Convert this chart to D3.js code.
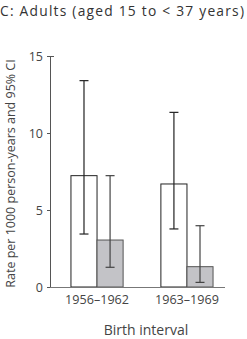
<!DOCTYPE html>
<html>
<head>
<meta charset="utf-8">
<script src="https://cdn.jsdelivr.net/npm/d3@7"></script>
<style>
  body { margin: 0; background: #fff; }
  text { font-family: "Open Sans", "Noto Sans", sans-serif; }
</style>
</head>
<body>
<svg id="chart" width="247" height="339"></svg>
<script>
const intervals = ["1956\u20131962", "1963\u20131969"];
const groups = ["white", "gray"];
const rates = [[7.23, 3.05], [6.69, 1.32]];
const lowerCI = [[3.44, 1.28], [3.77, 0.3]];
const upperCI = [[13.4, 7.23], [11.34, 3.98]];
const yTicks = [0, 5, 10, 15];

const plotLeft = 50;
const plotRight = 225;
const plotTop = 56;
const plotBottom = 287;

const svg = d3.select("#chart");

const x0 = d3.scaleBand().domain(intervals).range([plotLeft, 234]).paddingInner(0.42).paddingOuter(0.233);
const x1 = d3.scaleBand().domain(groups).range([0, x0.bandwidth()]);
const y = d3.scaleLinear().domain([0, 15]).range([plotBottom, plotTop]);

// title
svg.append("text")
  .attr("x", 0)
  .attr("y", 16)
  .attr("font-size", 13.8)
  .attr("fill", "#333")
  .attr("textLength", 244)
  .text("C: Adults (aged 15 to < 37 years)");

// bars
const fills = { white: "#fff", gray: "#c3c3c7" };
const strokes = { white: "#222", gray: "#555" };

intervals.forEach((iv, i) => {
  const g = svg.append("g").attr("transform", `translate(${x0(iv)},0)`);
  groups.forEach((grp, j) => {
    g.append("rect")
      .attr("x", x1(grp))
      .attr("y", y(rates[i][j]))
      .attr("width", x1.bandwidth())
      .attr("height", y(0) - y(rates[i][j]))
      .attr("fill", fills[grp])
      .attr("stroke", strokes[grp])
      .attr("stroke-width", 1);
  });
  groups.forEach((grp, j) => {
    const cx = x1(grp) + x1.bandwidth() / 2;
    const col = grp === "white" ? "#222" : "#444";
    g.append("line")
      .attr("x1", cx).attr("x2", cx)
      .attr("y1", y(lowerCI[i][j])).attr("y2", y(upperCI[i][j]))
      .attr("stroke", col).attr("stroke-width", 1.2);
    [lowerCI[i][j], upperCI[i][j]].forEach((v) => {
      g.append("line")
        .attr("x1", cx - 4.5).attr("x2", cx + 4.5)
        .attr("y1", y(v)).attr("y2", y(v))
        .attr("stroke", col).attr("stroke-width", 1.2);
    });
  });
});

// y axis
const yAxis = svg.append("g")
  .attr("transform", `translate(${plotLeft},0)`)
  .call(d3.axisLeft(y).tickValues(yTicks).tickSize(3).tickPadding(4));
yAxis.select(".domain").attr("stroke", "#555");
yAxis.selectAll(".tick line").attr("stroke", "#555");
yAxis.selectAll(".tick text").attr("font-size", 12.5).attr("fill", "#444")
  .attr("font-family", "'Open Sans', sans-serif");
// top tick points inward
yAxis.selectAll(".tick").filter((d) => d === 15).select("line").attr("x2", 4);

// x axis
const xAxis = svg.append("g")
  .attr("transform", `translate(0,${plotBottom})`)
  .call(d3.axisBottom(x0).tickSize(0).tickPadding(8));
xAxis.select(".domain").attr("stroke", "#777").attr("d", `M${plotLeft},0.5H${plotRight}`);
xAxis.selectAll(".tick text").attr("font-size", 12.6).attr("fill", "#444")
  .attr("font-family", "'Open Sans', sans-serif");

// axis titles
svg.append("text")
  .attr("transform", `translate(15,${(plotTop + plotBottom) / 2 + 2}) rotate(-90)`)
  .attr("text-anchor", "middle")
  .attr("font-size", 12.5)
  .attr("fill", "#444")
  .text("Rate per 1000 person-years and 95% CI");

svg.append("text")
  .attr("x", 146)
  .attr("y", 335)
  .attr("text-anchor", "middle")
  .attr("font-size", 14)
  .attr("fill", "#444")
  .text("Birth interval");
</script>
</body>
</html>
